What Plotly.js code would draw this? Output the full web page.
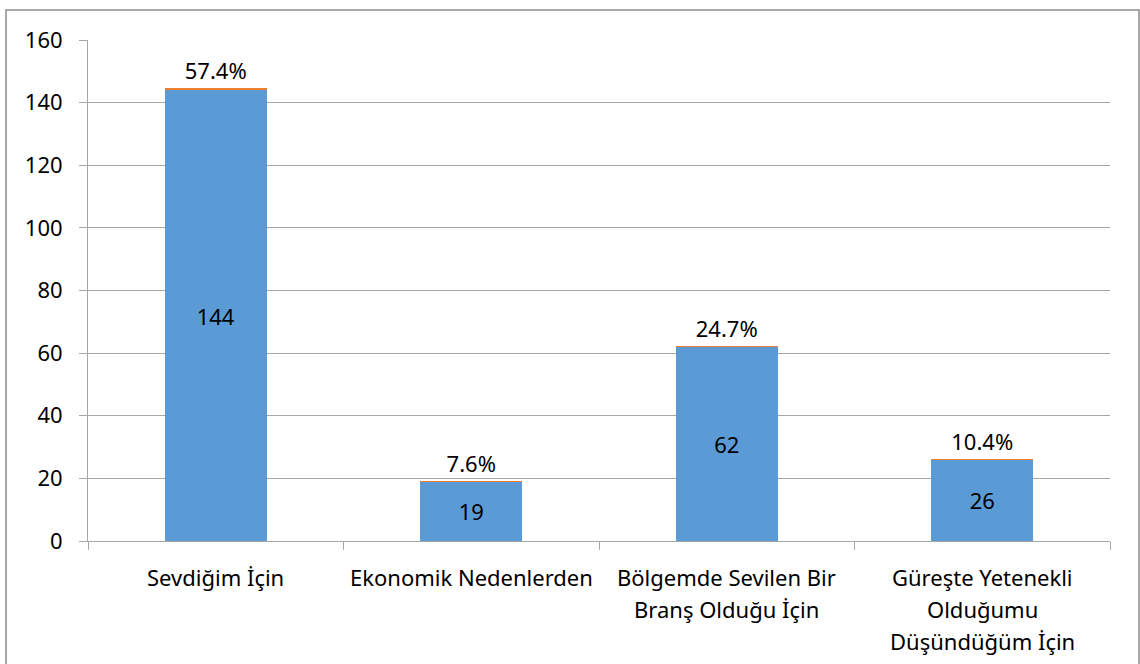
<!DOCTYPE html>
<html>
<head>
<meta charset="utf-8">
<script src="https://cdn.plot.ly/plotly-3.0.1.min.js"></script>
<style>body{margin:0;background:#fff}#c{width:1140px;height:664px}</style>
</head>
<body>
<div id="c"></div>
<script>
const categories = ["Sevdiğim İçin", "Ekonomik Nedenlerden", "Bölgemde Sevilen Bir<br>Branş Olduğu İçin", "Güreşte Yetenekli<br>Olduğumu<br>Düşündüğüm İçin"];
const counts = [144, 19, 62, 26];
const percents = [0.574, 0.076, 0.247, 0.104];
const percentLabels = ["57.4%", "7.6%", "24.7%", "10.4%"];
const yTicks = [0, 20, 40, 60, 80, 100, 120, 140, 160];

const FONT = "Noto Sans, Liberation Sans, sans-serif";
const txt = {family: FONT, size: 22, color: "#000"};

const traces = [
  {type: "bar", x: categories, y: counts, marker: {color: "#5b9bd5"},
   text: counts.map(String), textposition: "inside", insidetextanchor: "middle",
   textfont: txt, hoverinfo: "none"},
  {type: "bar", x: categories, y: percents, marker: {color: "#ed7d31"},
   text: percentLabels, textposition: "outside", textfont: txt, cliponaxis: false, hoverinfo: "none"}
];

const annotations = [];
categories.forEach(c => {
  c.split("<br>").forEach((line, i) => {
    annotations.push({x: c, xref: "x", y: 0, yref: "paper", text: line, showarrow: false,
      yanchor: "middle", xanchor: "center", yshift: -36 - 32 * i, font: txt});
  });
});

const layout = {
  width: 1140, height: 664,
  margin: {l: 88, r: 30, t: 40, b: 123},
  barmode: "stack", bargap: 0.6,
  showlegend: false,
  paper_bgcolor: "#fff", plot_bgcolor: "#fff",
  font: txt,
  xaxis: {type: "category", showticklabels: false, ticks: "outside", tickson: "boundaries",
    ticklen: 8, tickcolor: "#a6a6a6", showline: true, linecolor: "#a6a6a6", linewidth: 1,
    showgrid: false, fixedrange: true},
  yaxis: {range: [0, 160], tickvals: yTicks, ticktext: yTicks.map(String), ticks: "outside", ticklen: 8,
    tickcolor: "#a6a6a6", showline: true, linecolor: "#a6a6a6", gridcolor: "#a6a6a6", gridwidth: 1,
    zeroline: false, tickfont: txt, ticklabelstandoff: 12, fixedrange: true},
  annotations: annotations,
  shapes: [{type: "rect", xref: "paper", yref: "paper", x0: -0.0802, x1: 1.0284, y0: -0.27, y1: 1.0599,
    line: {color: "#8c8c8c", width: 1.5}, layer: "below"}]
};

Plotly.newPlot("c", traces, layout, {displayModeBar: false, staticPlot: true});
</script>
</body>
</html>
